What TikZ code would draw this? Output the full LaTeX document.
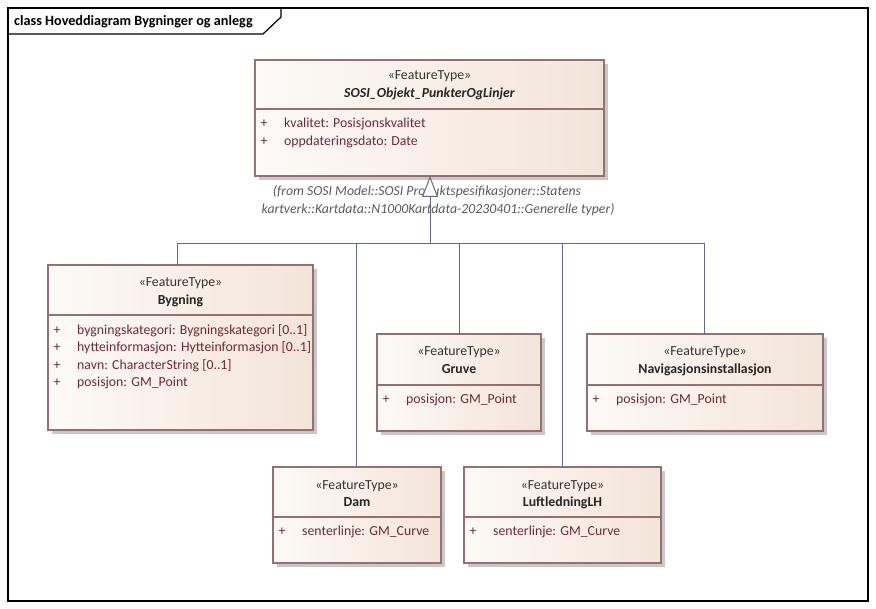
\documentclass[tikz,border=0pt]{standalone}
\usepackage{fontspec}
\setmainfont{Carlito}
\usetikzlibrary{shadows,arrows.meta}
\definecolor{boxborder}{RGB}{150,112,112}
\definecolor{fillL}{RGB}{253,250,247}
\definecolor{fillR}{RGB}{243,228,217}
\definecolor{attrcol}{RGB}{112,40,58}
\definecolor{conncol}{RGB}{95,105,140}
\definecolor{shadowc}{RGB}{200,200,200}
\definecolor{fromcol}{RGB}{90,90,90}
\newcommand{\umlfs}{\fontsize{13.8}{15}\selectfont}
\tikzset{
 classbox/.style={draw=boxborder, line width=1.1pt, left color=fillL, right color=fillR,
   anchor=north west, inner sep=0pt, outer sep=0pt,
   drop shadow={shadow xshift=4pt, shadow yshift=-4pt, fill=shadowc, opacity=1}},
 sepline/.style={draw=boxborder, line width=1.1pt},
 stereo/.style={font=\umlfs, text=black!80, anchor=base, inner sep=0pt},
 cname/.style={font=\umlfs\bfseries, text=black!85, anchor=base, inner sep=0pt},
 attrtxt/.style={font=\umlfs, text=attrcol, anchor=base west, inner sep=0pt},
 plustxt/.style={font=\umlfs, text=attrcol, anchor=base, inner sep=0pt},
 fromtxt/.style={font=\umlfs\itshape, text=fromcol, anchor=base, inner sep=0pt},
 genline/.style={draw=conncol, line width=1pt},
}
\begin{document}
\begin{tikzpicture}[x=1pt,y=-1pt]
\useasboundingbox (0,0) rectangle (876,609);
% frame
\draw[line width=1.2pt] (8,8) rectangle (868,601);
\draw[line width=1.2pt] (8,34) -- (263,34) -- (281,17) -- (281,8);
\node[font=\fontsize{14.2}{16}\selectfont\bfseries, anchor=base west, inner sep=0pt] (title) at (14,26) {class Hoveddiagram Bygninger og anlegg};

% top class
\node[classbox, minimum width=349pt, minimum height=116pt] (top) at (255,60) {};
\draw[sepline] (top.west |- 0,109) -- (top.east |- 0,109);
\node[stereo] (topst) at (429.5,80) {«FeatureType»};
\node[cname, font=\umlfs\bfseries\itshape] (topnm) at (429.5,98) {SOSI\_Objekt\_PunkterOgLinjer};
\node[plustxt] (topp1) at (264,128) {+};
\node[attrtxt] (topa1) at (284,128) {kvalitet: Posisjonskvalitet};
\node[plustxt] (topp2) at (264,145.5) {+};
\node[attrtxt] (topa2) at (284,145.5) {oppdateringsdato: Date};
\node[fromtxt] (from1) at (427,196) {(from SOSI Model::SOSI Produktspesifikasjoner::Statens};
\node[fromtxt] (from2) at (438,214) {kartverk::Kartdata::N1000Kartdata-20230401::Generelle typer)};

% Bygning
\node[classbox, minimum width=265pt, minimum height=165pt] (byg) at (48,265) {};
\draw[sepline] (byg.west |- 0,315) -- (byg.east |- 0,315);
\node[stereo] (bygst) at (180.5,287) {«FeatureType»};
\node[cname] (bygnm) at (180.5,305) {Bygning};
\node[plustxt] (bygp1) at (57,334.5) {+};
\node[attrtxt] (byga1) at (77,334.5) {bygningskategori: Bygningskategori [0..1]};
\node[plustxt] (bygp2) at (57,352) {+};
\node[attrtxt] (byga2) at (77,352) {hytteinformasjon: Hytteinformasjon [0..1]};
\node[plustxt] (bygp3) at (57,369.5) {+};
\node[attrtxt] (byga3) at (77,369.5) {navn: CharacterString [0..1]};
\node[plustxt] (bygp4) at (57,387) {+};
\node[attrtxt] (byga4) at (77,387) {posisjon: GM\_Point};

% Gruve
\node[classbox, minimum width=164pt, minimum height=97pt] (gru) at (377,334) {};
\draw[sepline] (gru.west |- 0,385) -- (gru.east |- 0,385);
\node[stereo] (grust) at (459,356) {«FeatureType»};
\node[cname] (grunm) at (459,374) {Gruve};
\node[plustxt] (grup1) at (386,404) {+};
\node[attrtxt] (grua1) at (406,404) {posisjon: GM\_Point};

% Navigasjonsinstallasjon
\node[classbox, minimum width=236pt, minimum height=97pt] (nav) at (587,334) {};
\draw[sepline] (nav.west |- 0,385) -- (nav.east |- 0,385);
\node[stereo] (navst) at (705,356) {«FeatureType»};
\node[cname] (navnm) at (705,374) {Navigasjonsinstallasjon};
\node[plustxt] (navp1) at (596,404) {+};
\node[attrtxt] (nava1) at (616,404) {posisjon: GM\_Point};

% Dam
\node[classbox, minimum width=168pt, minimum height=96pt] (dam) at (273,467) {};
\draw[sepline] (dam.west |- 0,517) -- (dam.east |- 0,517);
\node[stereo] (damst) at (357,489.5) {«FeatureType»};
\node[cname] (damnm) at (357,507) {Dam};
\node[plustxt] (damp1) at (282,536) {+};
\node[attrtxt] (dama1) at (302,536) {senterlinje: GM\_Curve};

% LuftledningLH
\node[classbox, minimum width=197pt, minimum height=96pt] (luf) at (464,467) {};
\draw[sepline] (luf.west |- 0,517) -- (luf.east |- 0,517);
\node[stereo] (lufst) at (562.5,489.5) {«FeatureType»};
\node[cname] (lufnm) at (562.5,507) {LuftledningLH};
\node[plustxt] (lufp1) at (473,536) {+};
\node[attrtxt] (lufa1) at (493,536) {senterlinje: GM\_Curve};

% generalization connectors
\coordinate (jn) at (430,244);
\draw[genline] (jn) -| (byg.north -| 177,0);
\draw[genline] (jn) -| (dam.north -| 356,0);
\draw[genline] (jn) -| (gru.north -| 459,0);
\draw[genline] (jn) -| (luf.north -| 562,0);
\draw[genline] (jn) -| (nav.north -| 704,0);
\draw[genline, -{Triangle[length=21pt,width=16pt,fill=white]}] (jn) -- (top.south -| 430,0);
\end{tikzpicture}
\end{document}
